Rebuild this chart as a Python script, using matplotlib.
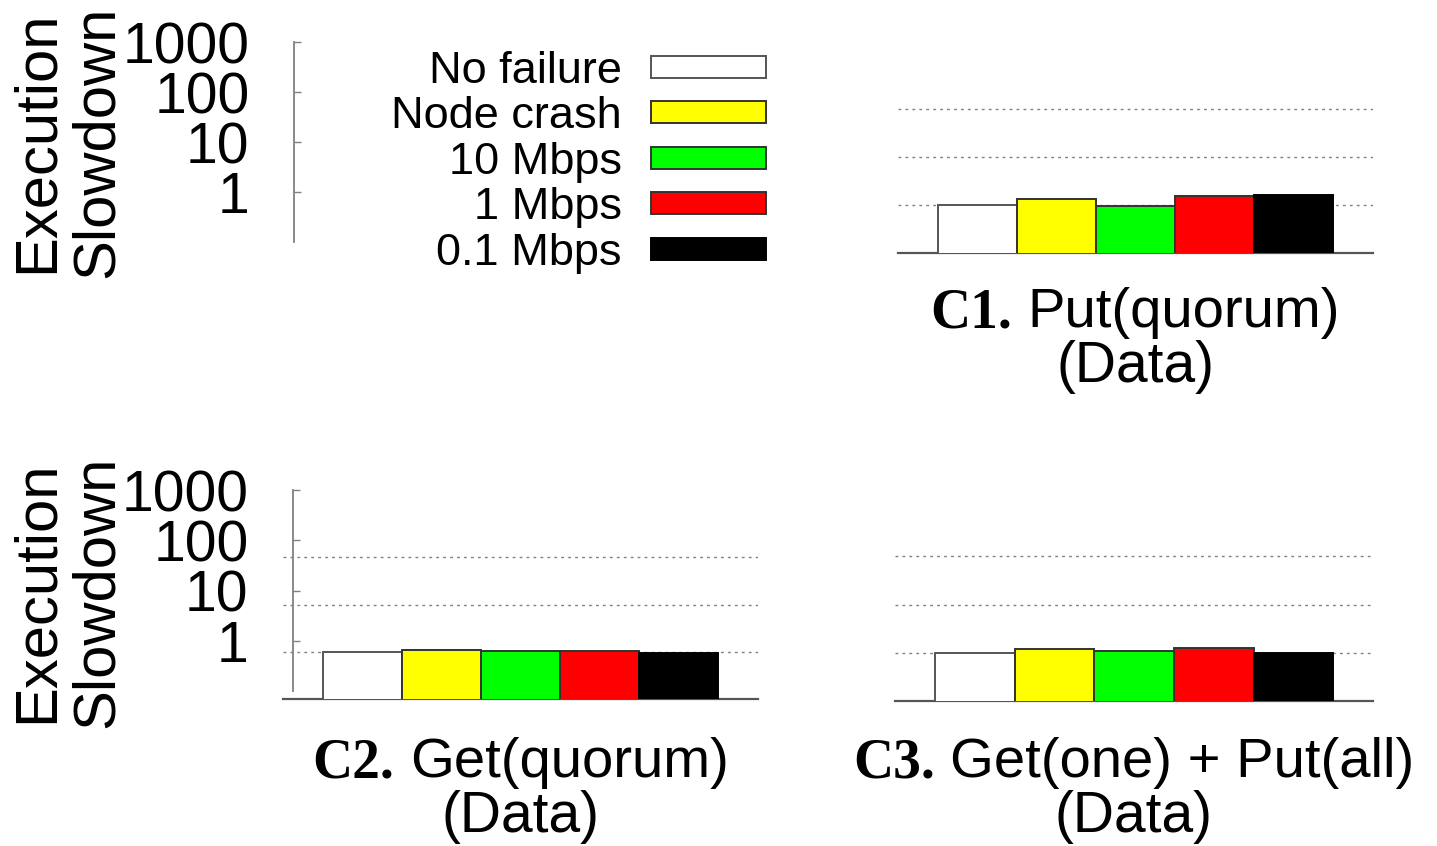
import numpy as np
import matplotlib
matplotlib.use("Agg")
import matplotlib.pyplot as plt
from matplotlib.ticker import NullLocator, FixedLocator, NullFormatter
from matplotlib.offsetbox import TextArea, HPacker, AnnotationBbox
from matplotlib.patches import Rectangle

# ---------------- data ----------------
series_labels = ["No failure", "Node crash", "10 Mbps", "1 Mbps", "0.1 Mbps"]
series_colors = ["#ffffff", "#ffff00", "#00ff00", "#ff0000", "#000000"]
series_edges = ["#555555", "#333333", "#333333", "#333333", "#000000"]

c1_values = [1.0, 1.35, 0.96, 1.55, 1.62]
c2_values = [1.0, 1.10, 1.05, 1.05, 0.93]
c3_values = [1.0, 1.22, 1.10, 1.25, 1.0]

panel_prefix = ["C1.", "C2.", "C3."]
panel_names = ["Put(quorum)", "Get(quorum)", "Get(one) + Put(all)"]
panel_sub = ["(Data)", "(Data)", "(Data)"]

ytick_vals = [1, 10, 100, 1000]
ytick_labels = ["1", "10", "100", "1000"]
grid_vals = [1, 10, 100]
ylabel_text = "Execution\nSlowdown"

# ---------------- layout helpers ----------------
W, H = 1437, 846
DPI = 100
fig = plt.figure(figsize=(W / DPI, H / DPI), dpi=DPI)
fig.patch.set_facecolor("white")

SANS = "Liberation Sans"
SERIF = "Liberation Serif"


def rect(x0, y0, x1, y1):
    """pixel box (top-left origin) -> figure fraction rect"""
    return [x0 / W, 1 - y1 / H, (x1 - x0) / W, (y1 - y0) / H]


def fx(x):
    return x / W


def fy(y):
    return 1 - y / H


YMIN, YMAX = 0.1, 1000


def overlay_axis(x, ytop, ybot):
    ax = fig.add_axes(rect(x, ytop, x + 4, ybot))
    ax.set_yscale("log")
    ax.set_ylim(YMIN, YMAX)
    ax.patch.set_visible(False)
    for s in ["top", "right", "bottom"]:
        ax.spines[s].set_visible(False)
    ax.spines["left"].set_color("#808080")
    ax.spines["left"].set_linewidth(1.3)
    ax.set_xticks([])
    ax.yaxis.set_major_locator(FixedLocator(ytick_vals))
    ax.set_yticklabels(ytick_labels, family=SANS, fontsize=41)
    ax.yaxis.set_minor_locator(NullLocator())
    ax.yaxis.set_minor_formatter(NullFormatter())
    ax.tick_params(axis="y", direction="in", length=5, width=1,
                   color="#808080", pad=32)
    return ax


def bar_axis(x0, x1, ytop, ybot, values, idx, t1_y, t2_y):
    ax = fig.add_axes(rect(x0, ytop, x1, ybot))
    ax.set_yscale("log")
    ax.set_ylim(YMIN, YMAX)
    ax.set_xlim(-1, 5)
    ax.patch.set_visible(False)
    for s in ["top", "right", "left"]:
        ax.spines[s].set_visible(False)
    ax.spines["bottom"].set_color("#555555")
    ax.spines["bottom"].set_linewidth(1.6)
    ax.set_xticks([])
    ax.yaxis.set_major_locator(FixedLocator(grid_vals))
    ax.yaxis.set_minor_locator(NullLocator())
    ax.tick_params(axis="y", length=0, labelleft=False)
    ax.yaxis.grid(True, linestyle=(0, (2, 3)), color="#808080", linewidth=1.0)
    ax.set_axisbelow(True)
    xs = np.arange(len(values))
    ax.bar(xs, values, width=1.0, color=series_colors,
           edgecolor=series_edges, linewidth=1.4, zorder=3)
    cx = (x0 + x1) / 2
    # title line 1: bold serif prefix + sans name
    ta1 = TextArea(panel_prefix[idx],
                   textprops=dict(family=SERIF, fontweight="bold", fontsize=40))
    ta2 = TextArea(panel_names[idx],
                   textprops=dict(family=SANS, fontsize=40.5))
    hp = HPacker(children=[ta1, ta2], align="baseline", pad=0, sep=11)
    ab = AnnotationBbox(hp, (fx(cx), fy(t1_y)), xycoords="figure fraction",
                        box_alignment=(0.5, 0.5), frameon=False, pad=0)
    fig.add_artist(ab)
    fig.text(fx(cx), fy(t2_y), panel_sub[idx], family=SANS, fontsize=41,
             ha="center", va="center")
    return ax


# ---------------- top-left: axis + legend ----------------
overlay_axis(294, 42, 242)
fig.text(fx(67), fy(142), ylabel_text, family=SANS, fontsize=43,
         rotation=90, ha="center", va="center", multialignment="center",
         linespacing=1.12)

row_y = [67, 112.5, 158, 203.5, 249]
for i, (lab, col, ec) in enumerate(zip(series_labels, series_colors, series_edges)):
    fig.text(fx(622), fy(row_y[i]), lab, family=SANS, fontsize=32.5,
             ha="right", va="center_baseline")
    fig.add_artist(Rectangle((fx(651), fy(row_y[i] + 11)), 115 / W, 22 / H,
                             transform=fig.transFigure, facecolor=col,
                             edgecolor=ec, linewidth=1.4))

# ---------------- panels ----------------
bar_axis(898, 1373, 61, 253, c1_values, 0, 313, 367)
overlay_axis(293, 490, 691)
fig.text(fx(67), fy(592), ylabel_text, family=SANS, fontsize=43,
         rotation=90, ha="center", va="center", multialignment="center",
         linespacing=1.12)
bar_axis(283, 758, 510, 699, c2_values, 1, 763, 817)
bar_axis(895, 1373, 508, 701, c3_values, 2, 763, 817)

fig.savefig("out.png", dpi=DPI, facecolor="white")
